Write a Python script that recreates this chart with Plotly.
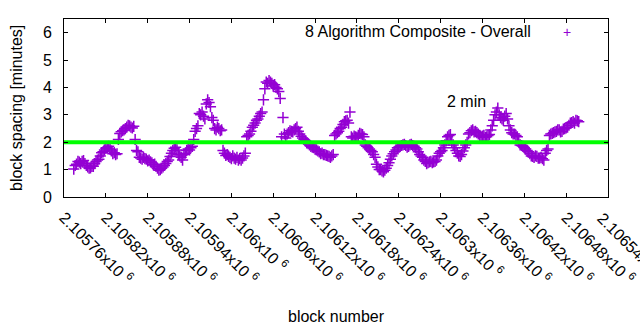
import plotly.graph_objects as go

# ---------------- data ----------------
START_BLOCK = 2105774
BLOCK_STEP = 4
# readings at START_BLOCK + 4*i
spacing_a = [
    1.02, 1.20, 1.27, 1.30, 1.22, 1.10, 1.06, 1.12, 1.30, 1.38,
    1.62, 1.72, 1.80, 1.75, 1.58, 1.55, 2.10, 2.38, 2.45, 2.55,
    2.60, 2.52, 2.10, 1.65, 1.42, 1.45, 1.38, 1.35, 1.25, 1.20,
    1.05, 1.00, 1.10, 1.22, 1.35, 1.60, 1.78, 1.72, 1.50, 1.35,
    1.60, 1.75, 1.80, 2.10, 2.50, 3.05, 3.10, 2.85, 3.55, 3.30,
    2.80, 2.45, 2.50, 2.45, 1.60, 1.55, 1.45, 1.50, 1.38, 1.35,
    1.35, 1.50, 2.20, 2.30, 2.55, 2.70, 2.85, 3.05, 3.55, 4.20,
    4.25, 4.15, 4.10, 3.95, 3.60, 2.90, 2.15, 2.35, 2.40, 2.45,
    2.55, 2.30, 2.15, 2.05, 1.95, 1.85, 1.80, 1.72, 1.65, 1.60,
    1.55, 1.50, 1.45, 1.55, 2.30, 2.40, 2.55, 2.75, 2.80, 3.10,
    2.15, 2.20, 2.25, 2.30, 2.20, 1.85, 1.75, 1.65, 1.45, 1.10,
    1.00, 0.92, 1.05, 1.25, 1.50, 1.65, 1.80, 1.85, 1.90, 1.88,
    1.85, 1.92, 1.85, 1.75, 1.55, 1.45, 1.30, 1.25, 1.30, 1.28,
    1.35, 1.60, 1.70, 1.90, 2.20, 2.28, 1.90, 1.70, 1.50, 1.55,
    1.80, 2.00, 2.35, 2.45, 2.40, 2.30, 2.20, 2.25, 2.20, 2.28,
    2.60, 3.00, 3.25, 2.90, 2.80, 3.05, 2.60, 2.35, 2.30, 2.20,
    1.90, 1.85, 1.75, 1.65, 1.50, 1.45, 1.48, 1.42, 1.40, 1.60,
    1.75, 2.30, 2.35, 2.40, 2.45, 2.40, 2.50, 2.55, 2.70, 2.75,
    2.80, 2.75,
]
# readings at START_BLOCK + 2 + 4*i
spacing_b = [
    1.15, 1.30, 1.22, 1.33, 1.15, 1.05, 1.12, 1.22, 1.35, 1.50,
    1.65, 1.78, 1.85, 1.68, 1.62, 1.58, 2.32, 2.42, 2.50, 2.62,
    2.55, 2.58, 1.70, 1.45, 1.38, 1.40, 1.32, 1.28, 1.18, 1.12,
    0.98, 1.05, 1.15, 1.30, 1.48, 1.70, 1.82, 1.55, 1.45, 1.55,
    1.70, 1.72, 1.85, 2.40, 2.60, 3.00, 2.95, 3.40, 3.45, 2.90,
    2.50, 2.55, 2.42, 1.70, 1.52, 1.48, 1.40, 1.42, 1.45, 1.40,
    1.42, 1.60, 2.25, 2.40, 2.62, 2.80, 2.95, 3.10, 3.95, 4.15,
    4.20, 4.05, 4.00, 3.85, 2.20, 2.30, 2.30, 2.42, 2.38, 2.50,
    2.40, 2.22, 2.10, 1.98, 1.90, 1.82, 1.75, 1.68, 1.58, 1.55,
    1.52, 1.48, 1.50, 2.25, 2.35, 2.50, 2.65, 2.78, 2.70, 2.20,
    2.22, 2.18, 2.32, 2.28, 1.90, 1.80, 1.70, 1.55, 1.20, 1.00,
    0.95, 0.98, 1.15, 1.38, 1.58, 1.72, 1.82, 1.88, 1.92, 1.82,
    1.90, 1.88, 1.80, 1.65, 1.50, 1.35, 1.22, 1.28, 1.25, 1.30,
    1.50, 1.65, 1.80, 2.05, 2.25, 2.00, 1.80, 1.60, 1.48, 1.68,
    1.90, 2.30, 2.42, 2.38, 2.35, 2.25, 2.22, 2.18, 2.25, 2.45,
    2.80, 3.10, 3.00, 2.85, 2.95, 2.85, 2.45, 2.30, 2.25, 2.00,
    1.88, 1.80, 1.70, 1.58, 1.48, 1.50, 1.42, 1.45, 1.35, 1.70,
    2.25, 2.32, 2.38, 2.45, 2.38, 2.48, 2.52, 2.62, 2.72, 2.70,
    2.78,
]
blocks = []
spacing_minutes = []
for i in range(max(len(spacing_a), len(spacing_b))):
    if i < len(spacing_a):
        blocks.append(START_BLOCK + BLOCK_STEP * i)
        spacing_minutes.append(spacing_a[i])
    if i < len(spacing_b):
        blocks.append(START_BLOCK + 2 + BLOCK_STEP * i)
        spacing_minutes.append(spacing_b[i])

target_x = [2105760, 2106540]
target_y = [2, 2]

tick_vals = [2105760, 2105820, 2105880, 2105940, 2106000, 2106060, 2106120,
             2106180, 2106240, 2106300, 2106360, 2106420, 2106480, 2106540]
tick_text = ["2.10576x10 <sup>6</sup>", "2.10582x10 <sup>6</sup>", "2.10588x10 <sup>6</sup>",
             "2.10594x10 <sup>6</sup>", "2.106x10 <sup>6</sup>", "2.10606x10 <sup>6</sup>",
             "2.10612x10 <sup>6</sup>", "2.10618x10 <sup>6</sup>", "2.10624x10 <sup>6</sup>",
             "2.1063x10 <sup>6</sup>", "2.10636x10 <sup>6</sup>", "2.10642x10 <sup>6</sup>",
             "2.10648x10 <sup>6</sup>", "2.10654x10 <sup>6</sup>"]

FONT = "Liberation Sans, Arial, sans-serif"
PURPLE = "#9400d3"

fig = go.Figure()
fig.add_trace(go.Scatter(
    x=blocks, y=spacing_minutes, mode="markers",
    marker=dict(symbol="cross-thin", size=8, color=PURPLE,
                line=dict(color=PURPLE, width=1.5)),
    showlegend=False, hoverinfo="skip"))
fig.add_trace(go.Scatter(
    x=target_x, y=target_y, mode="lines",
    line=dict(color="#00ff00", width=4),
    showlegend=False, hoverinfo="skip"))

fig.update_layout(
    width=640, height=330,
    margin=dict(l=64, r=32, t=19, b=133, autoexpand=False),
    paper_bgcolor="white", plot_bgcolor="white",
    font=dict(family=FONT, size=16, color="black"),
    xaxis=dict(range=[2105760, 2106540], tickmode="array",
               tickvals=tick_vals, ticktext=tick_text, tickangle=45,
               ticks="inside", ticklen=4, tickcolor="black",
               showline=True, linecolor="black", linewidth=1, mirror="ticks",
               showgrid=False, zeroline=False, ticklabelstandoff=4,
               automargin=False,
               tickfont=dict(family=FONT, size=16, color="black")),
    yaxis=dict(range=[0, 6.5], tickmode="array", tickvals=[0, 1, 2, 3, 4, 5, 6],
               ticks="inside", ticklen=4, tickcolor="black",
               showline=True, linecolor="black", linewidth=1, mirror="ticks",
               showgrid=False, zeroline=False, ticklabelstandoff=8,
               automargin=False,
               tickfont=dict(family=FONT, size=16, color="black")),
    annotations=[
        dict(text="block spacing [minutes]", xref="paper", yref="paper",
             x=0, y=0.5, xshift=-48, textangle=-90, showarrow=False,
             xanchor="center", yanchor="middle", font=dict(size=16)),
        dict(text="block number", xref="paper", yref="paper",
             x=0.5, y=0, yshift=-119, showarrow=False,
             xanchor="center", yanchor="middle", font=dict(size=16)),
        dict(text="8 Algorithm Composite - Overall", xref="paper", yref="paper",
             x=(533 - 64) / 544, y=(197 - 32) / 178, showarrow=False,
             xanchor="right", yanchor="middle", font=dict(size=16)),
        dict(text="+", xref="paper", yref="paper",
             x=(567 - 64) / 544, y=(197 - 32) / 178, showarrow=False,
             xanchor="center", yanchor="middle", font=dict(size=14, color=PURPLE)),
        dict(text="2 min", x=2106300, y=3.5, showarrow=False,
             xanchor="left", yanchor="middle", xshift=4, font=dict(size=16)),
        # last tick label (clipped by page edge as in the original)
        dict(text=tick_text[-1], x=tick_vals[-1], xref="x", yref="paper", y=0,
             textangle=45, showarrow=False, xanchor="left", yanchor="top",
             xshift=-17, yshift=-8, font=dict(family=FONT, size=16, color="black")),
    ],
)

fig.write_html("out.html")
